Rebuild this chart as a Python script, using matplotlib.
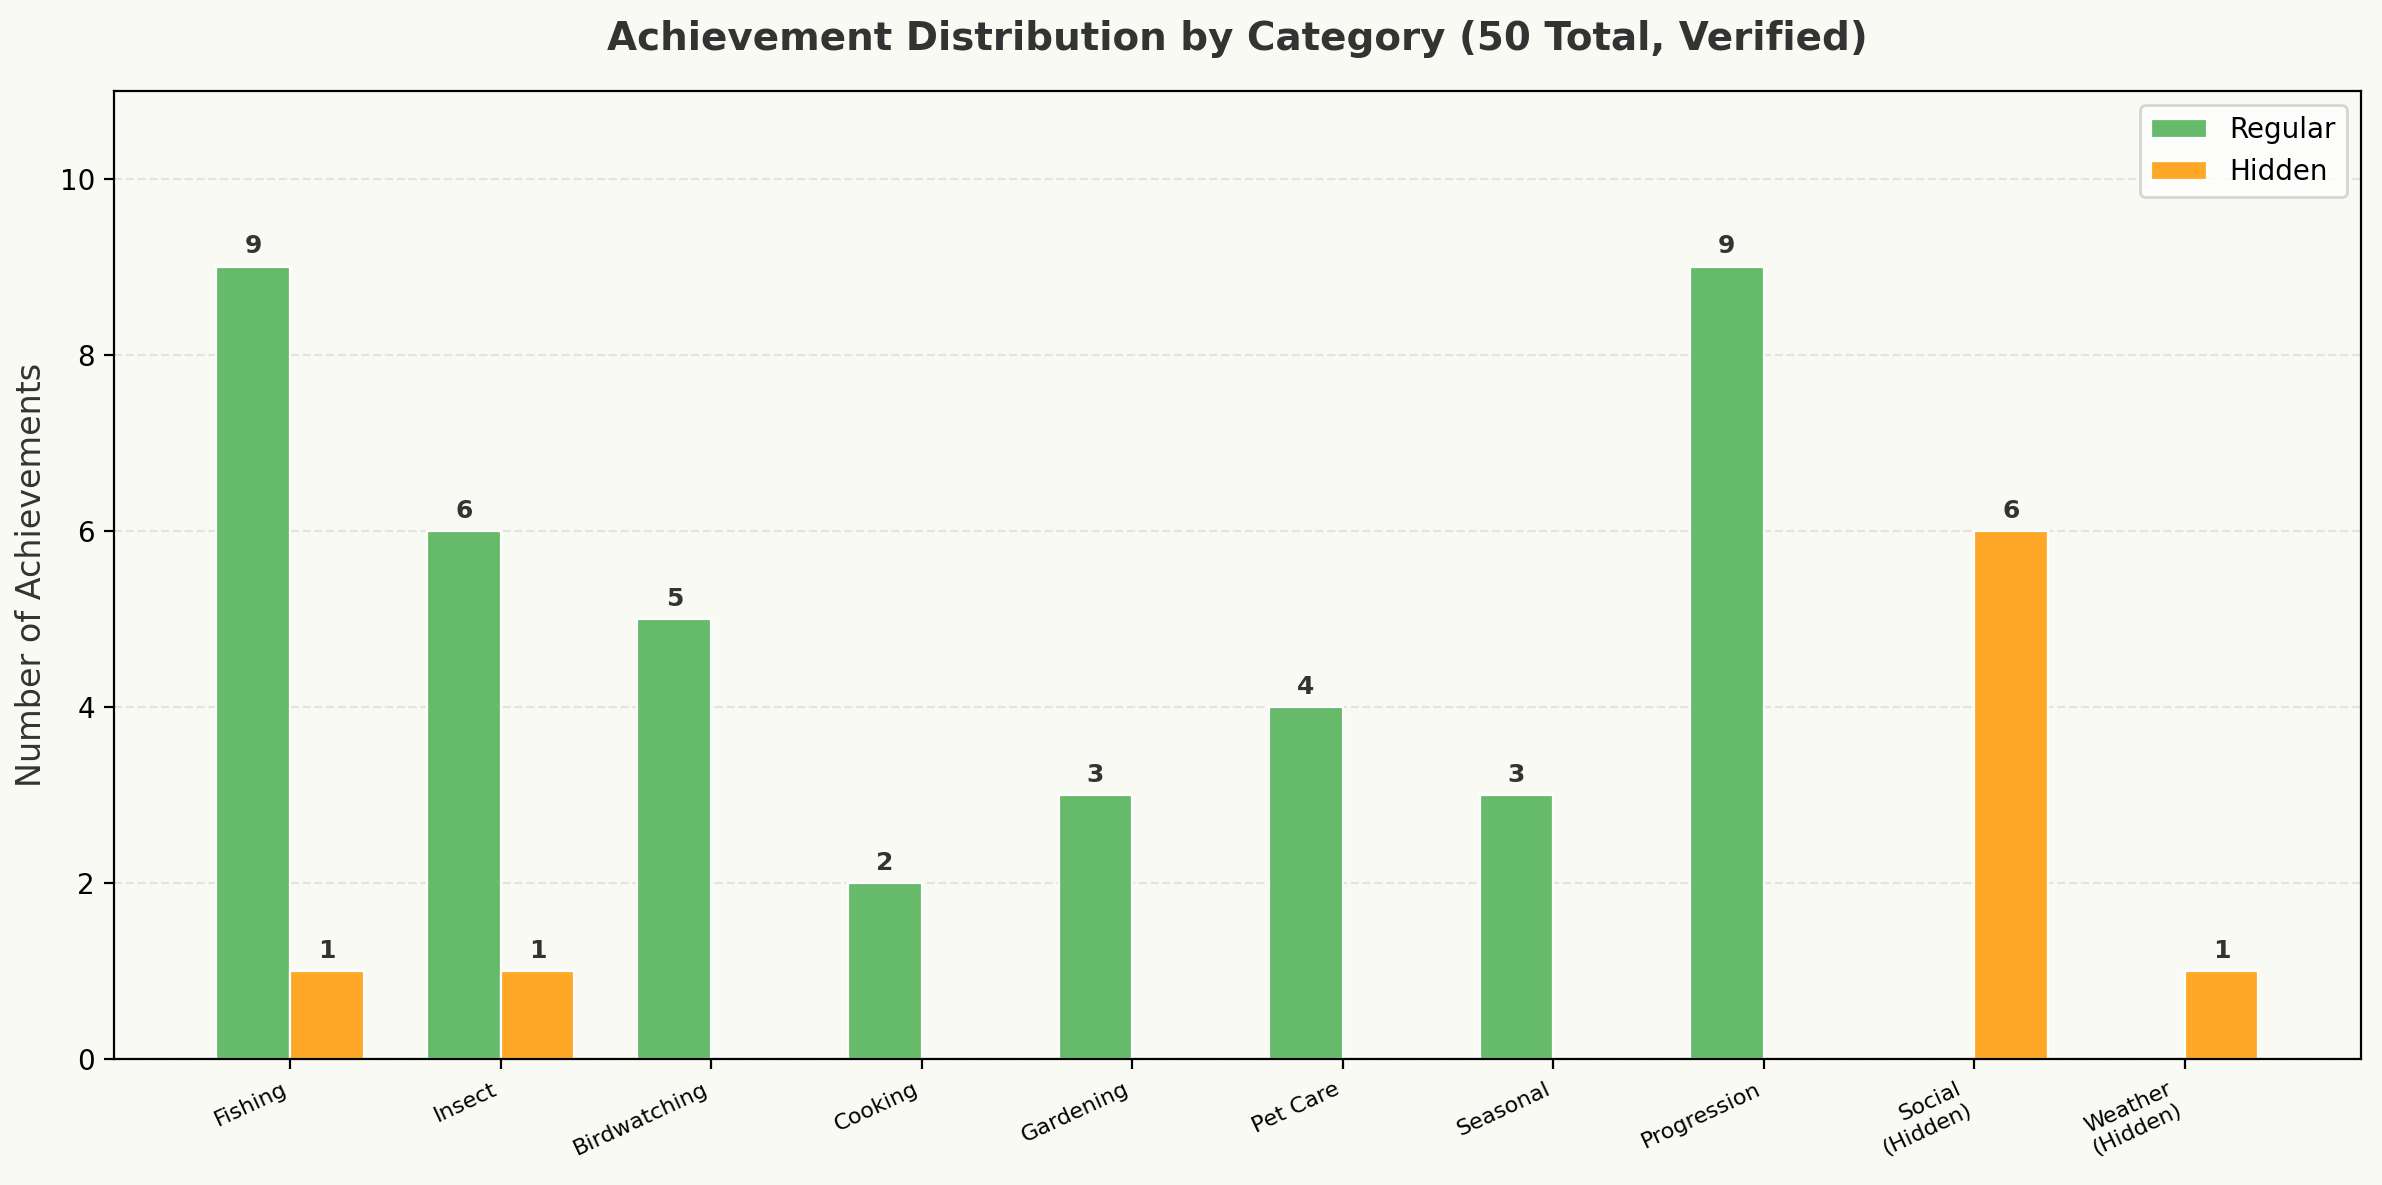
#import necessary libraries
import matplotlib
matplotlib.use("Agg")
import matplotlib.pyplot as plt
import numpy as np

#categories and counts
categories=['Fishing','Insect','Birdwatching','Cooking','Gardening','Pet Care',
            'Seasonal','Progression','Social\n(Hidden)','Weather\n(Hidden)']
regular=[9,6,5,2,3,4,3,9,0,0]
hidden=[1,1,0,0,0,0,0,0,6,1]

bg='#fafaf5'
x=np.arange(len(categories))
width=0.35

#set up the figure
fig,ax=plt.subplots(figsize=(11.91,5.925),dpi=200)
fig.patch.set_facecolor(bg)
ax.set_facecolor(bg)
fig.subplots_adjust(left=0.048,right=0.991,top=0.923,bottom=0.106)

#draw the bars
bars_r=ax.bar(x-width/2,regular,width,label='Regular',color='#66bb6a',edgecolor='white',linewidth=0.8)
bars_h=ax.bar(x+width/2,hidden,width,label='Hidden',color='#ffa726',edgecolor='white',linewidth=0.8)

#value labels above the non-empty bars
for bars in (bars_r,bars_h):
    for b in bars:
        h=b.get_height()
        if h>0:
            ax.text(b.get_x()+b.get_width()/2,h+0.1,str(int(h)),ha='center',va='bottom',
                    fontsize=9,fontweight='bold',color='#333333')

#axes, ticks and labels
ax.set_ylim(0,11)
ax.set_xticks(x)
ax.set_xticklabels(categories,rotation=25,ha='right',fontsize=8)
ax.tick_params(axis='y',labelsize=10)
ax.set_ylabel('Number of Achievements',fontsize=12,color='#333333')
ax.set_title('Achievement Distribution by Category (50 Total, Verified)',fontsize=14,
             fontweight='bold',color='#333333',pad=15)
ax.grid(axis='y',linestyle='--',alpha=0.3)
ax.set_axisbelow(True)
ax.legend(loc='upper right',fontsize=10)

#save the plot
plt.savefig('out.png',dpi=200,facecolor=bg)
